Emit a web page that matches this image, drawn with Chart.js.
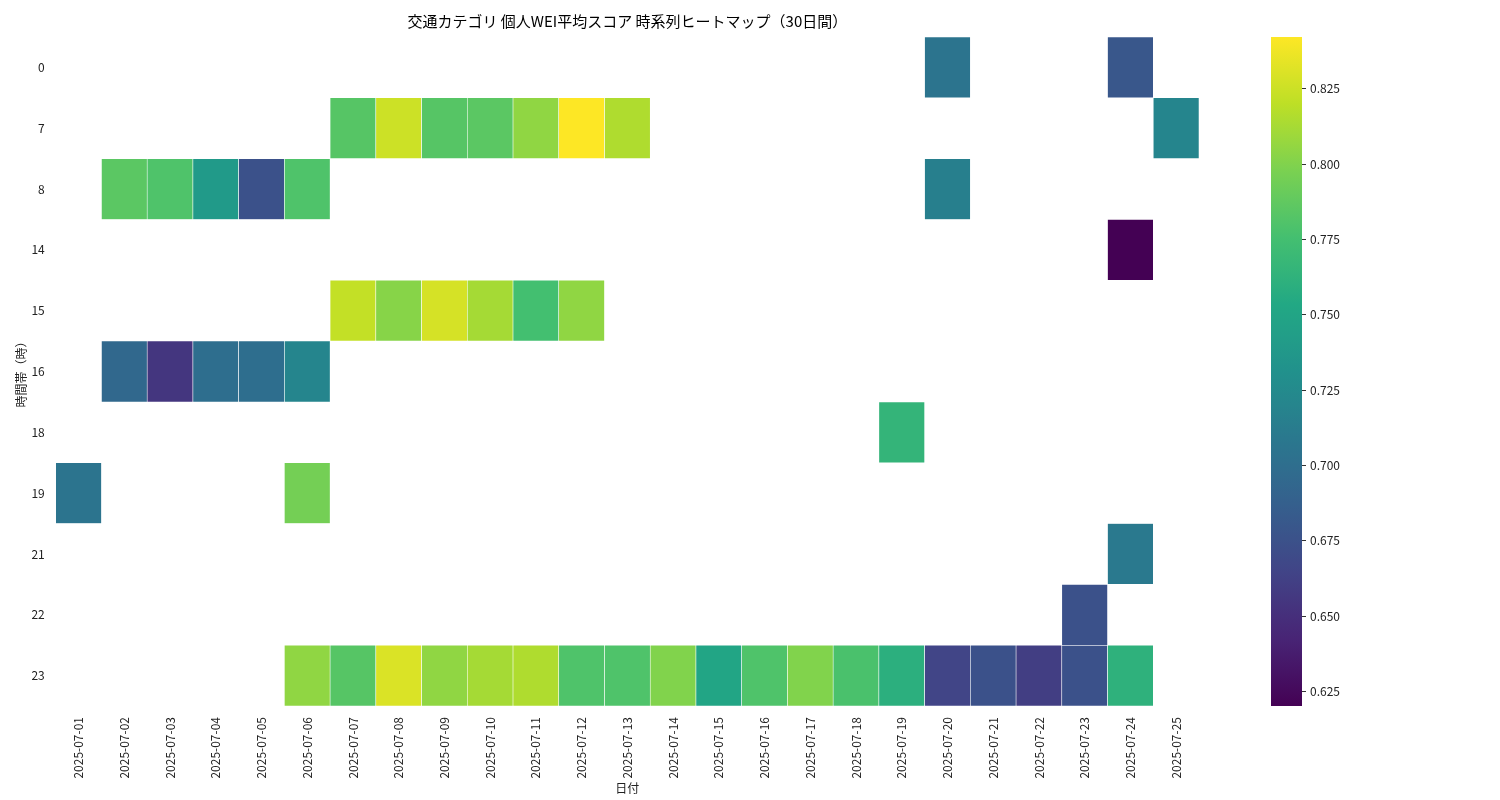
<!DOCTYPE html>
<html><head><meta charset="utf-8">
<script src="https://cdn.jsdelivr.net/npm/chart.js@4"></script>
<style>body{margin:0;background:#fff}#w{width:1500px;height:800px}</style>
</head><body><div id="w"><canvas id="c"></canvas></div>
<script>
const dates=['2025-07-01','2025-07-02','2025-07-03','2025-07-04','2025-07-05','2025-07-06','2025-07-07','2025-07-08','2025-07-09','2025-07-10','2025-07-11','2025-07-12','2025-07-13','2025-07-14','2025-07-15','2025-07-16','2025-07-17','2025-07-18','2025-07-19','2025-07-20','2025-07-21','2025-07-22','2025-07-23','2025-07-24','2025-07-25'];
const hours=['0','7','8','14','15','16','18','19','21','22','23'];
const N=null;
const h0 =[N,N,N,N,N,N,N,N,N,N,N,N,N,N,N,N,N,N,N,0.705,N,N,N,0.680,N];
const h7 =[N,N,N,N,N,N,0.783,0.825,0.783,0.785,0.805,0.842,0.815,N,N,N,N,N,N,N,N,N,N,N,0.720];
const h8 =[N,0.785,0.780,0.740,0.675,0.780,N,N,N,N,N,N,N,N,N,N,N,N,N,0.715,N,N,N,N,N];
const h14=[N,N,N,N,N,N,N,N,N,N,N,N,N,N,N,N,N,N,N,N,N,N,N,0.620,N];
const h15=[N,N,N,N,N,N,0.822,0.802,0.828,0.812,0.775,0.805,N,N,N,N,N,N,N,N,N,N,N,N,N];
const h16=[N,0.695,0.655,0.700,0.700,0.720,N,N,N,N,N,N,N,N,N,N,N,N,N,N,N,N,N,N,N];
const h18=[N,N,N,N,N,N,N,N,N,N,N,N,N,N,N,N,N,N,0.765,N,N,N,N,N,N];
const h19=[0.705,N,N,N,N,0.795,N,N,N,N,N,N,N,N,N,N,N,N,N,N,N,N,N,N,N];
const h21=[N,N,N,N,N,N,N,N,N,N,N,N,N,N,N,N,N,N,N,N,N,N,N,0.710,N];
const h22=[N,N,N,N,N,N,N,N,N,N,N,N,N,N,N,N,N,N,N,N,N,N,0.675,N,N];
const h23=[N,N,N,N,N,0.805,0.783,0.830,0.805,0.812,0.815,0.780,0.780,0.800,0.750,0.780,0.800,0.778,0.760,0.665,0.675,0.660,0.675,0.762,N];
const rows=[h0,h7,h8,h14,h15,h16,h18,h19,h21,h22,h23];
const cbTicks=[0.625,0.650,0.675,0.700,0.725,0.750,0.775,0.800,0.825];
const TITLE='交通カテゴリ 個人WEI平均スコア 時系列ヒートマップ（30日間）';
const VMIN=0.620,VMAX=0.842;
const VIR=[[68,1,84],[72,36,117],[65,68,135],[53,95,141],[42,120,142],[33,145,140],[34,168,132],[68,191,112],[122,209,81],[189,223,38],[253,231,37]];
function vir(t){t=Math.max(0,Math.min(1,t));const s=t*(VIR.length-1),i=Math.min(VIR.length-2,Math.floor(s)),f=s-i;const a=VIR[i],b=VIR[i+1];return `rgb(${a.map((v,k)=>Math.round(v+(b[k]-v)*f)).join(',')})`;}
const col=v=>vir((v-VMIN)/(VMAX-VMIN));
const FONT="'Noto Sans CJK JP','Noto Sans',sans-serif";
Chart.defaults.font.family=FONT;Chart.defaults.color='#222';
const datasets=rows.map((r,i)=>({label:hours[i],data:r.map(v=>v==null?null:[i,i+1]),backgroundColor:r.map(v=>v==null?'rgba(0,0,0,0)':col(v)),borderColor:'#fff',borderWidth:0.6,borderSkipped:false,grouped:false,barPercentage:1,categoryPercentage:1}));
const cbPlugin={id:'cb',afterDraw(ch){const a=ch.scales.cb,ctx=ch.ctx,ca=ch.chartArea;const x0=1271,w=31;const g=ctx.createLinearGradient(0,a.bottom,0,a.top);for(let i=0;i<=20;i++)g.addColorStop(i/20,vir(i/20));ctx.fillStyle=g;ctx.fillRect(x0,a.top,w,a.bottom-a.top);ctx.strokeStyle='#333';ctx.lineWidth=1;ctx.fillStyle='#222';ctx.font='12px '+FONT;ctx.textAlign='left';ctx.textBaseline='middle';cbTicks.forEach(v=>{const y=Math.round(a.getPixelForValue(v))+0.5;ctx.beginPath();ctx.moveTo(x0+w,y);ctx.lineTo(x0+w+4,y);ctx.stroke();ctx.fillText(v.toFixed(3),x0+w+8,y);});
ctx.font='15px '+FONT;ctx.textAlign='center';ctx.fillStyle='#000';ctx.fillText(TITLE,(ca.left+ca.right)/2,21);}};
new Chart(document.getElementById('c'),{type:'bar',data:{labels:dates,datasets},plugins:[cbPlugin],
options:{responsive:true,maintainAspectRatio:false,animation:false,layout:{padding:{top:37,left:14,bottom:4,right:0}},
plugins:{legend:{display:false},tooltip:{enabled:false},title:{display:false}},
scales:{x:{grid:{display:false},border:{display:false},ticks:{minRotation:90,maxRotation:90,autoSkip:false,font:{size:12},color:'#222'},title:{display:true,text:'日付',font:{size:12},padding:0}},
y:{min:0,max:11,reverse:true,grid:{display:false},border:{display:false},afterBuildTicks:a=>{a.ticks=hours.map((_,i)=>({value:i+0.5}));},ticks:{autoSkip:false,callback:(v,i)=>hours[i],font:{size:12},color:'#222'},title:{display:true,text:'時間帯（時）',font:{size:12},padding:0}},
cb:{position:'right',min:VMIN,max:VMAX,grid:{display:false,drawTicks:false},border:{display:false},afterBuildTicks:a=>{a.ticks=cbTicks.map(v=>({value:v}));},afterFit:a=>{a.width=301;},ticks:{display:false}}}}});
</script></body></html>
